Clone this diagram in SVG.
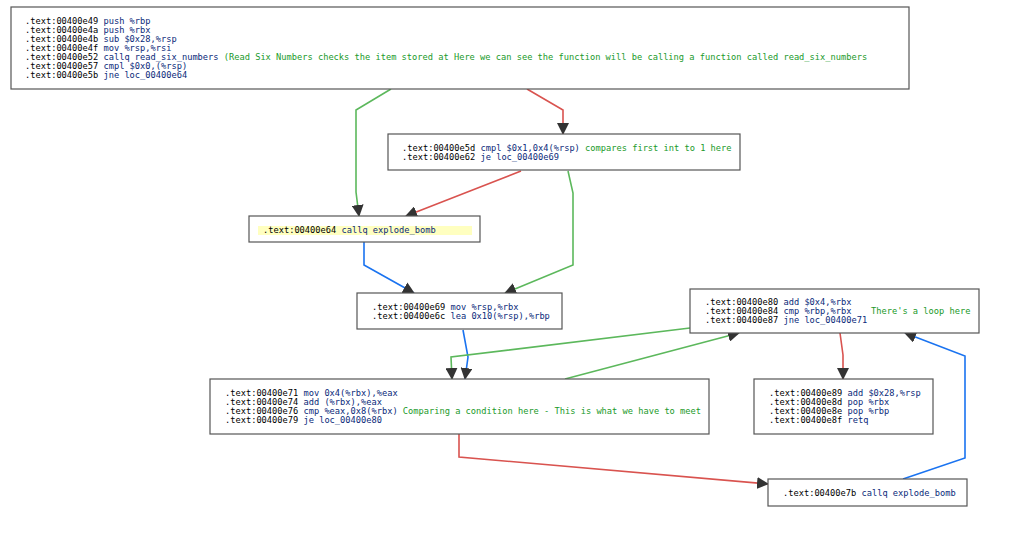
<svg xmlns="http://www.w3.org/2000/svg" width="1024" height="534" viewBox="0 0 1024 534">
<style>
.box{fill:#fff;stroke:#555;stroke-width:1.2}
text{font-family:"DejaVu Sans Mono","Liberation Mono",monospace;font-size:8.7px;fill:#000}
.i{fill:#0a2a7a}.c{fill:#1a9a2a}
.e{fill:none;stroke-width:1.6}
.g{stroke:#5cb85c}.r{stroke:#d9534f}.b{stroke:#1a73f0}
</style>
<defs><marker id="a" markerUnits="userSpaceOnUse" markerWidth="12" markerHeight="12" refX="11" refY="6" orient="auto"><path d="M0,0L12,6L0,12z" fill="#333"/></marker></defs>
<rect width="1024" height="534" fill="#fff"/>
<g id="edges" marker-end="url(#a)">
<path class="e g" d="M391,89L356,110L356,192L359,216"/>
<path class="e r" d="M527,89L563,110L563,134"/>
<path class="e r" d="M521,171L470,191L406,216"/>
<path class="e g" d="M568,171L573,193L573,265L505,293"/>
<path class="e b" d="M364,242L364,265L414,293"/>
<path class="e b" d="M463,330L468,357L465,379"/>
<path class="e g" d="M690,328L451,357L452,379"/>
<path class="e g" d="M565,379L739,333"/>
<path class="e r" d="M840,333L843,355L843,379"/>
<path class="e r" d="M459,434L459,457L768,484"/>
<path class="e b" d="M903,479L965,458L965,356L905,333"/>
</g>
<g id="n1"><rect class="box" x="11" y="7" width="898" height="82"/>
<text x="25" y="24">.text:00400e49 <tspan class="i">push %rbp</tspan></text>
<text x="25" y="33">.text:00400e4a <tspan class="i">push %rbx</tspan></text>
<text x="25" y="42">.text:00400e4b <tspan class="i">sub $0x28,%rsp</tspan></text>
<text x="25" y="51">.text:00400e4f <tspan class="i">mov %rsp,%rsi</tspan></text>
<text x="25" y="60">.text:00400e52 <tspan class="i">callq read_six_numbers</tspan> <tspan class="c">(Read Six Numbers checks the item stored at Here we can see the function will be calling a function called read_six_numbers</tspan></text>
<text x="25" y="69">.text:00400e57 <tspan class="i">cmpl $0x0,(%rsp)</tspan></text>
<text x="25" y="78">.text:00400e5b <tspan class="i">jne loc_00400e64</tspan></text></g>
<g id="n2"><rect class="box" x="388" y="134" width="352" height="36"/>
<text x="402" y="151">.text:00400e5d <tspan class="i">cmpl $0x1,0x4(%rsp)</tspan> <tspan class="c">compares first int to 1 here</tspan></text>
<text x="402" y="160">.text:00400e62 <tspan class="i">je loc_00400e69</tspan></text></g>
<g id="n3"><rect class="box" x="249" y="216" width="231" height="26"/>
<rect x="258" y="226" width="214" height="9" fill="#ffffc0"/>
<text x="263" y="233">.text:00400e64 <tspan class="i">callq explode_bomb</tspan></text></g>
<g id="n4"><rect class="box" x="357" y="293" width="205" height="36"/>
<text x="372" y="310">.text:00400e69 <tspan class="i">mov %rsp,%rbx</tspan></text>
<text x="372" y="319">.text:00400e6c <tspan class="i">lea 0x10(%rsp),%rbp</tspan></text></g>
<g id="n5"><rect class="box" x="690" y="289" width="289" height="44"/>
<text x="705" y="305">.text:00400e80 <tspan class="i">add $0x4,%rbx</tspan></text>
<text x="705" y="314">.text:00400e84 <tspan class="i">cmp %rbp,%rbx</tspan></text>
<text x="871" y="314" class="c">There's a loop here</text>
<text x="705" y="323">.text:00400e87 <tspan class="i">jne loc_00400e71</tspan></text></g>
<g id="n6"><rect class="box" x="210" y="379" width="499" height="55"/>
<text x="225" y="396">.text:00400e71 <tspan class="i">mov 0x4(%rbx),%eax</tspan></text>
<text x="225" y="405">.text:00400e74 <tspan class="i">add (%rbx),%eax</tspan></text>
<text x="225" y="414">.text:00400e76 <tspan class="i">cmp %eax,0x8(%rbx)</tspan> <tspan class="c">Comparing a condition here - This is what we have to meet</tspan></text>
<text x="225" y="423">.text:00400e79 <tspan class="i">je loc_00400e80</tspan></text></g>
<g id="n7"><rect class="box" x="754" y="379" width="179" height="55"/>
<text x="769" y="396">.text:00400e89 <tspan class="i">add $0x28,%rsp</tspan></text>
<text x="769" y="405">.text:00400e8d <tspan class="i">pop %rbx</tspan></text>
<text x="769" y="414">.text:00400e8e <tspan class="i">pop %rbp</tspan></text>
<text x="769" y="423">.text:00400e8f <tspan class="i">retq</tspan></text></g>
<g id="n8"><rect class="box" x="768" y="479" width="199" height="27"/>
<text x="783" y="496">.text:00400e7b <tspan class="i">callq explode_bomb</tspan></text></g>
</svg>
